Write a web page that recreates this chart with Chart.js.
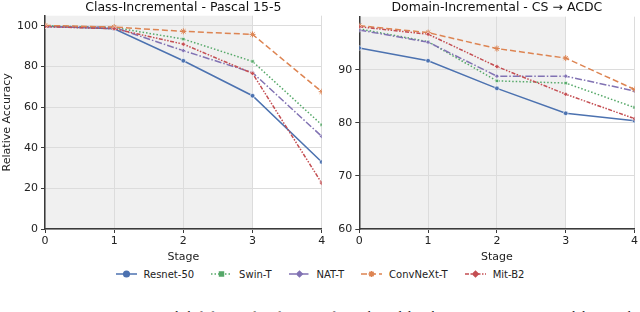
<!DOCTYPE html>
<html>
<head>
<meta charset="utf-8">
<script src="https://cdn.jsdelivr.net/npm/chart.js@4.4.0/dist/chart.umd.min.js"></script>
<style>
  body { margin: 0; background: #fff; width: 640px; height: 312px; overflow: hidden; position: relative; font-family: 'DejaVu Sans', sans-serif; }
  canvas { position: absolute; top: 0; }
  #classChart { left: 0; }
  #domainChart { left: 330px; }
  #legend { position: absolute; top: 268px; left: 0; width: 640px; display: flex; justify-content: center; gap: 17px; font-size: 10px; color: #222; }
  .item { display: flex; align-items: center; }
  .item canvas { position: static; margin-right: 7px; }
  #caption { position: absolute; top: 308px; left: 0; width: 640px; font-family: 'Liberation Serif', serif; font-size: 13.5px; white-space: nowrap; color: #111; }
</style>
</head>
<body>
<canvas id="classChart" width="330" height="264"></canvas>
<canvas id="domainChart" width="310" height="264"></canvas>
<div id="legend"></div>
<div id="caption">Fig. 2: Accuracies in incremental shift forms of performance for each model architecture in 15-5 VOC and domain shift.</div>
<script>
// Chart data
const stages = [0, 1, 2, 3, 4];
const seriesNames = ['Resnet-50', 'Swin-T', 'NAT-T', 'ConvNeXt-T', 'Mit-B2'];

// Class-Incremental - Pascal 15-5
const classResnet = [99.8, 98.6, 82.8, 65.6, 33.0];
const classSwin = [100.0, 99.2, 93.5, 82.5, 51.3];
const classNat = [99.6, 99.2, 87.8, 77.0, 45.6];
const classConvnext = [100.2, 99.4, 97.3, 95.8, 67.6];
const classMit = [99.6, 98.6, 91.0, 76.6, 22.6];

// Domain-Incremental - CS -> ACDC
const domainResnet = [94.1, 91.7, 86.5, 81.8, 80.4];
const domainSwin = [97.7, 95.3, 87.9, 87.5, 82.9];
const domainNat = [97.5, 95.2, 88.8, 88.8, 86.0];
const domainConvnext = [98.3, 97.0, 94.0, 92.2, 86.3];
const domainMit = [98.1, 96.7, 90.6, 85.4, 80.8];

const classTicks = [0, 20, 40, 60, 80, 100];
const domainTicks = [60, 70, 80, 90];
const shadedUntil = 3;

const styles = [
    { color: '#4c72b0', dash: [], point: 'circle' },
    { color: '#55a868', dash: [1.5, 2], point: 'rect' },
    { color: '#8172b3', dash: [7, 2, 1.5, 2], point: 'rectRot' },
    { color: '#dd8452', dash: [6, 3], point: 'star' },
    { color: '#c44e52', dash: [4, 1.5, 1.5, 1.5, 1.5, 1.5], point: 'rectRot' }
];

Chart.defaults.font.family = "'DejaVu Sans', sans-serif";
Chart.defaults.color = '#222';

const shadePlugin = {
    id: 'shade',
    beforeDraw(chart) {
        const { ctx, chartArea, scales } = chart;
        const x0 = scales.x.getPixelForValue(0);
        const x1 = scales.x.getPixelForValue(shadedUntil);
        ctx.save();
        ctx.fillStyle = '#f0f0f0';
        ctx.fillRect(x0, chartArea.top, x1 - x0, chartArea.bottom - chartArea.top);
        ctx.restore();
    }
};

function buildDatasets(seriesList) {
    return seriesList.map((values, i) => ({
        label: seriesNames[i],
        data: stages.map((s, j) => ({ x: s, y: values[j] })),
        borderColor: styles[i].color,
        backgroundColor: styles[i].color,
        borderDash: styles[i].dash,
        borderWidth: 1.5,
        pointStyle: styles[i].point,
        pointRadius: styles[i].point === 'star' ? 3 : 2.3,
        pointBackgroundColor: styles[i].color,
        pointBorderColor: styles[i].point === 'star' ? styles[i].color : '#fff',
        pointBorderWidth: styles[i].point === 'star' ? 1 : 0.6,
        tension: 0,
        order: 4 - i
    }));
}

function makeChart(id, title, seriesList, yMin, yMax, step, tickList, opts) {
    const ctx = document.getElementById(id).getContext('2d');
    return new Chart(ctx, {
        type: 'line',
        data: { datasets: buildDatasets(seriesList) },
        options: {
            responsive: false,
            animation: false,
            layout: { padding: { left: 0, right: opts.padRight, top: 0, bottom: 0.7 } },
            plugins: {
                legend: { display: false },
                tooltip: { enabled: false },
                title: {
                    display: true,
                    text: title,
                    fullSize: false,
                    color: '#111',
                    font: { size: 12.5, weight: 'normal' },
                    padding: { top: 0, bottom: opts.titleGap }
                }
            },
            scales: {
                x: {
                    type: 'linear',
                    min: 0,
                    max: 4,
                    afterFit: s => { s.height = 264 - 229 - 0.7; },
                    ticks: { stepSize: 1, padding: 2, font: { size: 11 }, color: '#222' },
                    grid: { color: '#dcdcdc', tickColor: '#3a3a3a', tickLength: 4 },
                    border: { color: '#3a3a3a', width: 1.5 },
                    title: { display: true, text: 'Stage', font: { size: 11 }, padding: 0, color: '#222' }
                },
                y: {
                    min: yMin,
                    max: yMax,
                    afterFit: s => { s.width = opts.yWidth; },
                    afterBuildTicks: s => { s.ticks = tickList.map(v => ({ value: v })); },
                    ticks: { stepSize: step, padding: 3, font: { size: 11 }, color: '#222' },
                    grid: { color: '#dcdcdc', tickColor: '#3a3a3a', tickLength: 4 },
                    border: { color: '#3a3a3a', width: 1.5 },
                    title: { display: opts.yTitle, text: 'Relative Accuracy', font: { size: 11 }, padding: 0.5, color: '#222' }
                }
            }
        },
        plugins: [shadePlugin]
    });
}

makeChart('classChart', 'Class-Incremental - Pascal 15-5',
    [classResnet, classSwin, classNat, classConvnext, classMit],
    0, 105, 20, classTicks,
    { padRight: 8.3, titleGap: 0.7, yWidth: 45, yTitle: true });

makeChart('domainChart', 'Domain-Incremental - CS \u2192 ACDC',
    [domainResnet, domainSwin, domainNat, domainConvnext, domainMit],
    60, 100, 10, domainTicks,
    { padRight: 4.7, titleGap: 1.7, yWidth: 29.3, yTitle: false });

// Legend swatches: line segment with the marker in the middle
function drawSwatch(canvas, style) {
    const c = canvas.getContext('2d');
    c.strokeStyle = style.color;
    c.fillStyle = style.color;
    c.lineWidth = 1.5;
    c.setLineDash(style.dash);
    c.beginPath();
    c.moveTo(0, 6);
    c.lineTo(canvas.width, 6);
    c.stroke();
    c.setLineDash([]);
    Chart.helpers.drawPoint(c, {
        pointStyle: style.point,
        radius: style.point === 'star' ? 3 : 2.8,
        rotation: 0,
        borderWidth: 1
    }, canvas.width / 2, 6);
}

const legend = document.getElementById('legend');
seriesNames.forEach((name, i) => {
    const item = document.createElement('div');
    item.className = 'item';
    const sw = document.createElement('canvas');
    sw.width = 21;
    sw.height = 12;
    item.appendChild(sw);
    const label = document.createElement('span');
    label.textContent = name;
    item.appendChild(label);
    legend.appendChild(item);
    drawSwatch(sw, styles[i]);
});
</script>
</body>
</html>
